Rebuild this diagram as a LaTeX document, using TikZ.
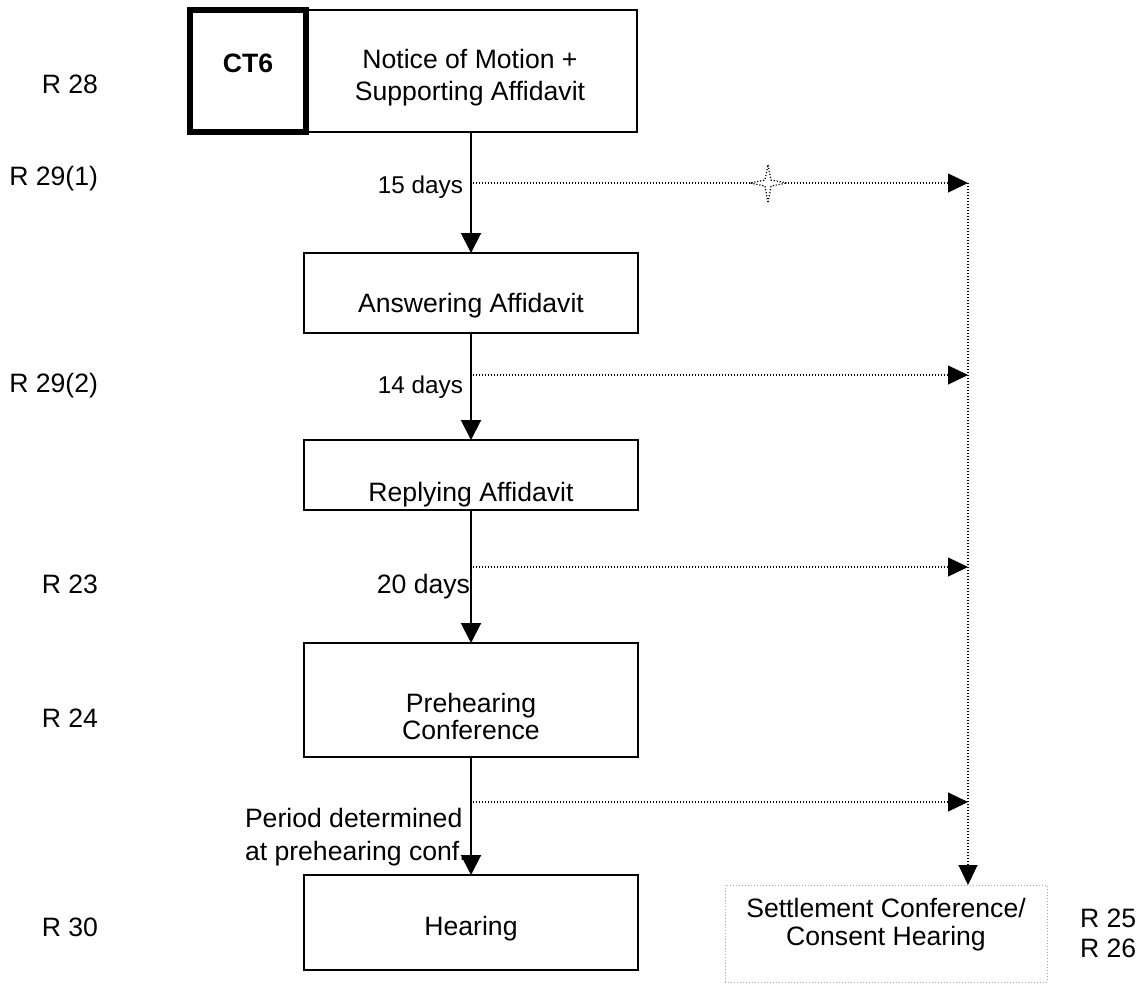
\documentclass[tikz,border=0pt]{standalone}
\usepackage{fontspec}
\setmainfont{Liberation Sans}
\usetikzlibrary{arrows.meta}
\begin{document}
\begin{tikzpicture}[x=1pt,y=-1pt,
  box/.style={draw, line width=1.5pt, rectangle, inner sep=0pt, outer sep=0pt},
  thickbox/.style={draw, line width=5.5pt, rectangle, inner sep=0pt, outer sep=0pt},
  softbox/.style={draw=black!35, line width=1pt, dash pattern=on 1pt off 2pt, rectangle, inner sep=0pt, outer sep=0pt},
  txt/.style={inner sep=0pt, outer sep=0pt, font=\fontsize{26.6}{30}\selectfont, anchor=base},
  smalltxt/.style={inner sep=0pt, outer sep=0pt, font=\fontsize{24.3}{28}\selectfont, anchor=base east},
  conn/.style={line width=2pt, -{Triangle[length=20pt,width=20pt]}},
  dotconn/.style={line width=1.2pt, dash pattern=on 1.2pt off 1.8pt, -{Triangle[length=20pt,width=19pt]}},
  dotline/.style={line width=1.2pt, dash pattern=on 1.2pt off 1.8pt}
]
\useasboundingbox (0,0) rectangle (1146,983);

% boxes
\node[thickbox, minimum width=116pt, minimum height=122pt] (ct6) at (248,71) {};
\node[box, minimum width=329pt, minimum height=122pt] (notice) at (472.5,71) {};
\node[box, minimum width=334pt, minimum height=80pt] (answering) at (471,293) {};
\node[box, minimum width=334pt, minimum height=70pt] (replying) at (471,475) {};
\node[box, minimum width=334pt, minimum height=114pt] (prehearing) at (471,700) {};
\node[box, minimum width=334pt, minimum height=95pt] (hearing) at (471,922.5) {};
\node[softbox, minimum width=322pt, minimum height=97pt] (settle) at (886,933.5) {};

% box texts
\node[txt, font=\fontsize{26.6}{30}\selectfont\bfseries] (ct6t) at (248,72) {CT6};
\node[txt] (notice1) at (470,68) {Notice of Motion +};
\node[txt] (notice2) at (470,100) {Supporting Affidavit};
\node[txt] (answert) at (471,312) {Answering Affidavit};
\node[txt] (replyt) at (471,501) {Replying Affidavit};
\node[txt] (pre1) at (471,712) {Prehearing};
\node[txt] (pre2) at (471,739) {Conference};
\node[txt] (heart) at (471,935) {Hearing};
\node[txt] (set1) at (886,917) {Settlement Conference/};
\node[txt] (set2) at (886,945) {Consent Hearing};

% rule labels
\node[txt, anchor=base east] (r28) at (98,93) {R 28};
\node[txt, anchor=base east] (r291) at (98,185) {R 29(1)};
\node[txt, anchor=base east] (r292) at (98,392) {R 29(2)};
\node[txt, anchor=base east] (r23) at (98,593) {R 23};
\node[txt, anchor=base east] (r24) at (98,727) {R 24};
\node[txt, anchor=base east] (r30) at (98,936) {R 30};
\node[txt, anchor=base west] (r25) at (1080,927) {R 25};
\node[txt, anchor=base west] (r26) at (1080,957) {R 26};

% period labels
\node[smalltxt] (d15) at (463,193) {15 days};
\node[smalltxt] (d14) at (463,393) {14 days};
\node[txt, anchor=base east] (d20) at (470,593) {20 days};
\node[txt, anchor=base west] (per1) at (245,827) {Period determined};
\node[txt, anchor=base west] (per2) at (245,860) {at prehearing conf.};

% main flow
\draw[conn] (answering.north |- notice.south) -- (answering.north);
\draw[conn] (answering.south) -- (replying.north);
\draw[conn] (replying.south) -- (prehearing.north);
\draw[conn] (prehearing.south) -- (hearing.north);

% branch points
\coordinate (b1) at (473,183);
\coordinate (b2) at (473,375);
\coordinate (b3) at (473,567);
\coordinate (b4) at (473,802);
\coordinate (j1) at (968,183);
\coordinate (j2) at (968,375);
\coordinate (j3) at (968,567);
\coordinate (j4) at (968,802);

\draw[dotconn] (b1) -- (j1);
\draw[dotconn] (b2) -- (j2);
\draw[dotconn] (b3) -- (j3);
\draw[dotconn] (b4) -- (j4);
\draw[dotconn] (j1) -- (j1 |- settle.north);

% sparkle on first branch
\draw[dotline, fill=white] (768,165) -- (771,180) -- (787,183) -- (771,186) -- (768,203) -- (765,186) -- (750,183) -- (765,180) -- cycle;
\end{tikzpicture}
\end{document}
